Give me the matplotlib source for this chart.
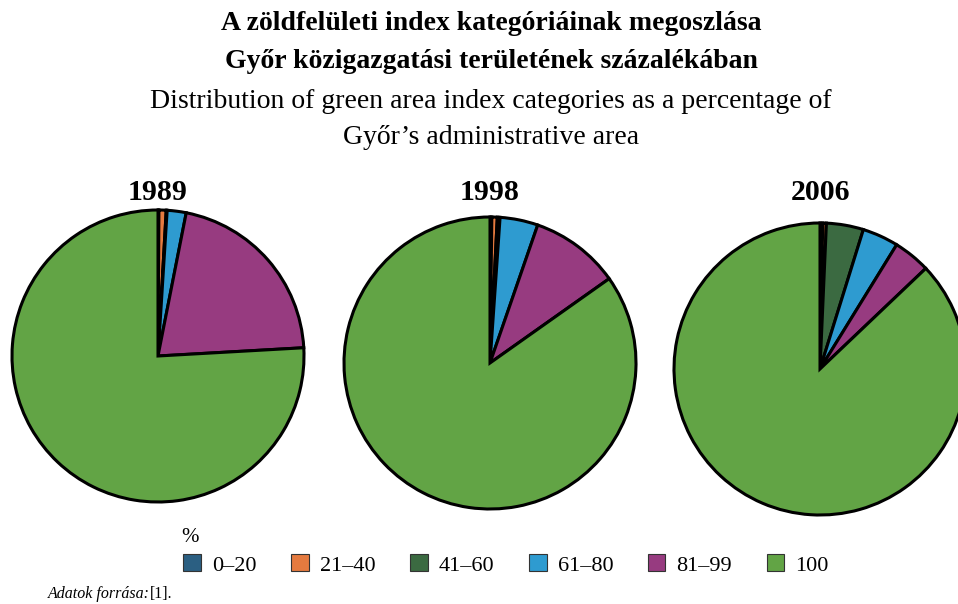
import matplotlib.pyplot as plt
from matplotlib.patches import Patch

plt.rcParams['font.family'] = ['Liberation Serif', 'DejaVu Serif']

# Data
categories = ["0–20", "21–40", "41–60", "61–80", "81–99", "100"]
colors = ["#2b5f82", "#e57a3f", "#3b6a41", "#2e9bd0", "#973b80", "#62a445"]
years = ["1989", "1998", "2006"]
values_1989 = [0.1, 0.8, 0.1, 2.1, 21.0, 75.9]
values_1998 = [0.2, 0.6, 0.3, 4.2, 9.9, 84.8]
values_2006 = [0.3, 0.4, 4.1, 4.0, 4.1, 87.1]
all_values = [values_1989, values_1998, values_2006]

W, H = 958, 604
fig = plt.figure(figsize=(W / 100, H / 100), dpi=100)

# Title, line by line
title_lines = ["A zöldfelületi index kategóriáinak megoszlása",
               "Győr közigazgatási területének százalékában"]
sub_lines = ["Distribution of green area index categories as a percentage of",
             "Győr’s administrative area"]
tx = 491 / W
for y, t in zip([23, 62], title_lines):
    fig.text(tx, 1 - y / H, t, ha='center', va='center', fontsize=20, fontweight='bold')
for y, t in zip([101, 137], sub_lines):
    fig.text(tx, 1 - y / H, t, ha='center', va='center', fontsize=20)

# pie centres and radius in pixels
centers = [(158, 356), (490, 363), (820, 369)]
r = 146
pad = 1.03

for (cx, cy), year, vals in zip(centers, years, all_values):
    rr = r * pad
    ax = fig.add_axes([(cx - rr) / W, 1 - (cy + rr) / H, 2 * rr / W, 2 * rr / H])
    ax.pie(vals, colors=colors, startangle=90, counterclock=False,
           wedgeprops=dict(edgecolor='black', linewidth=2.2))
    ax.set_xlim(-pad, pad)
    ax.set_ylim(-pad, pad)
    ax.axis('off')
    fig.text(cx / W, 1 - 192 / H, year, ha='center', va='center', fontsize=21.5, fontweight='bold')

# Legend
fig.text(181 / W, 1 - 538 / H, "%", ha='left', va='center', fontsize=15)
handles = [Patch(facecolor=c, edgecolor='#333333', linewidth=0.8) for c in colors]
fig.legend(handles, categories, ncol=6, frameon=False, loc='center left',
           bbox_to_anchor=(163 / W, 1 - 565 / H), fontsize=16,
           handlelength=0.8, handleheight=0.8, handletextpad=0.5, columnspacing=1.55)

fig.text(48 / W, 1 - 594 / H, "Adatok forrása:", ha='left', va='center', fontsize=11.5, style='italic')
fig.text(150 / W, 1 - 594 / H, "[1].", ha='left', va='center', fontsize=11.5)

fig.savefig("out.png", dpi=100)
